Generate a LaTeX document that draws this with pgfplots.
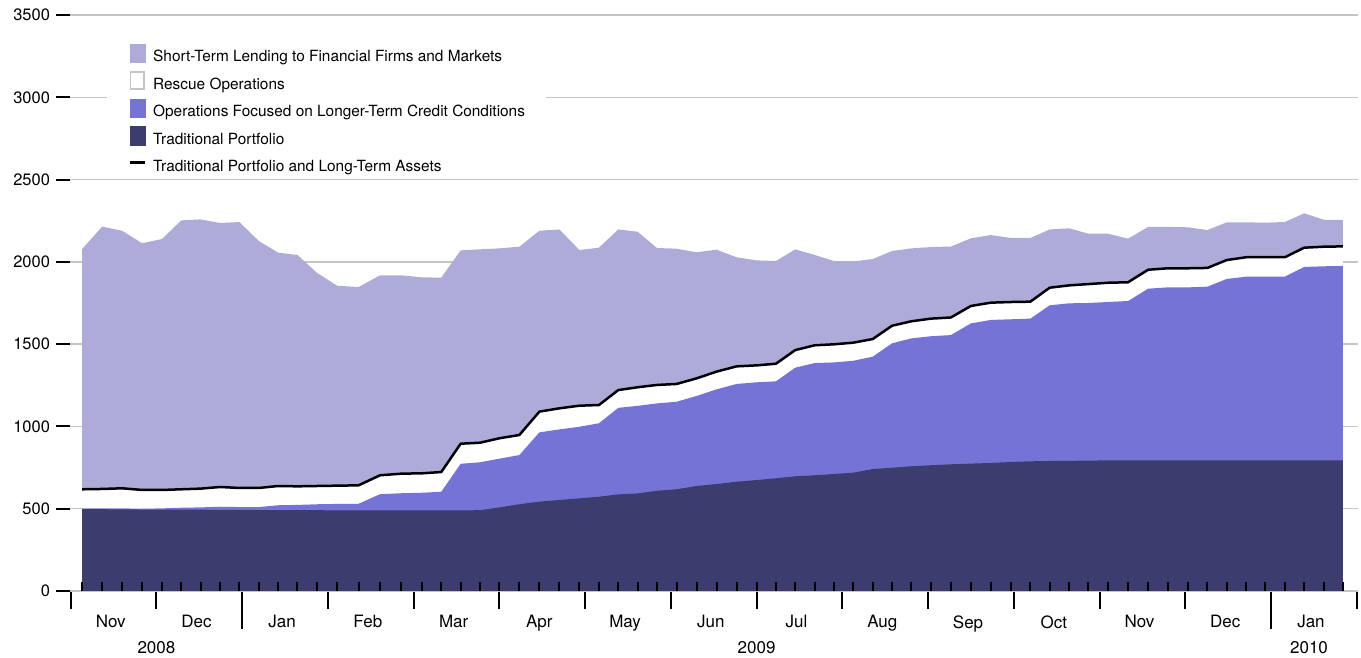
\documentclass[border=0pt]{standalone}
\usepackage{fontspec}
\setmainfont{TeX Gyre Heros}
\usepackage{pgfplots}
\usepackage{pgfplotstable}
\pgfplotsset{compat=1.18}

\definecolor{shortterm}{HTML}{ADACD9}
\definecolor{longterm}{HTML}{7574D6}
\definecolor{tradport}{HTML}{3D3C6E}
\definecolor{gridgray}{HTML}{C4C4C4}

% weekly balance sheet, cumulative tops (billions of dollars)
% x = month index from Nov 2008 (fraction of month)
\pgfplotstableread{
x T L R S
0.1333 498 502 618 2078
0.3667 497 502 620 2214
0.6000 496 502 624 2189
0.8333 495 500 614 2113
1.0645 495 502 614 2139
1.2903 494 506 618 2252
1.5161 494 508 622 2258
1.7419 493 512 632 2236
1.9677 493 510 626 2242
2.1935 492 510 626 2127
2.4194 492 521 638 2056
2.6452 491 523 636 2042
2.8710 491 527 638 1934
3.1071 490 529 640 1855
3.3571 490 530 642 1847
3.6071 490 588 703 1918
3.8571 490 594 713 1918
4.0968 490 597 715 1906
4.3226 490 603 723 1904
4.5484 490 773 895 2070
4.7742 491 782 901 2076
5.0000 508 804 928 2082
5.2333 527 826 948 2092
5.4667 543 964 1090 2189
5.7000 553 982 1110 2197
5.9333 563 998 1126 2072
6.1613 573 1019 1130 2086
6.3871 587 1113 1221 2197
6.6129 593 1125 1238 2183
6.8387 609 1140 1252 2084
7.0667 618 1150 1258 2080
7.3000 638 1185 1292 2058
7.5333 650 1225 1333 2074
7.7667 664 1258 1365 2028
8.0000 674 1268 1371 2009
8.2258 685 1274 1381 2005
8.4516 697 1357 1464 2076
8.6774 703 1385 1493 2042
8.9032 711 1389 1499 2005
9.1290 719 1399 1509 2003
9.3548 741 1424 1531 2017
9.5806 749 1505 1612 2066
9.8065 758 1535 1639 2082
10.0333 764 1548 1655 2090
10.2667 770 1555 1662 2093
10.5000 774 1626 1732 2143
10.7333 778 1647 1752 2163
10.9667 784 1651 1756 2145
11.1935 788 1655 1758 2145
11.4194 790 1736 1843 2197
11.6452 791 1748 1857 2204
11.8710 792 1750 1865 2171
12.1000 794 1756 1873 2171
12.3333 794 1762 1876 2141
12.5667 794 1837 1952 2212
12.8000 794 1845 1961 2212
13.0323 794 1845 1961 2210
13.2581 794 1849 1963 2193
13.4839 794 1896 2011 2240
13.7097 794 1910 2028 2240
13.9355 794 1910 2028 2238
14.1613 794 1910 2028 2242
14.3871 794 1969 2086 2295
14.6129 794 1973 2092 2256
14.8387 794 1975 2094 2254
}\balance

\pgfplotsset{
  chartframe/.style={
    at={(70pt,67pt)}, anchor=south west,
    scale only axis, width=1287.7pt, height=576pt,
    xmin=-0.0082, xmax=15.0117, ymin=0, ymax=3500,
    axis line style={draw=none},
    tick pos=left,
  },
}

\begin{document}
\begin{tikzpicture}
\useasboundingbox (0,0) rectangle (1361pt,658pt);
\begin{axis}[
  chartframe,
  clip=false,
  ytick=\empty,
  extra y ticks={0,500,...,3500},
  extra y tick style={major tick length=14pt, ymajorgrids},
  major grid style={gridgray, line width=1.5pt},
  xtick={0,...,15},
  xticklabels={Nov,Dec,Jan,Feb,Mar,Apr,May,Jun,Jul,Aug,Sep,Oct,Nov,Dec,Jan,{}},
  extra x ticks={2,14},
  extra x tick labels={},
  extra x tick style={major tick length=38pt},
  tick align=outside,
  major tick length=18pt,
  tick style={black, line width=2pt},
  /pgf/number format/assume math mode=true,
  /pgf/number format/1000 sep={},
  yticklabel style={font=\fontsize{16.5}{18}\selectfont, anchor=east, xshift=-2.5pt},
  xticklabel style={font=\fontsize{17}{19}\selectfont, anchor=north, xshift=40pt, yshift=-3pt},
  legend style={at={(axis description cs:0,1)}, anchor=north west,
    xshift=37pt, yshift=-27.7pt, draw=none, fill=white,
    font=\fontsize{15.4}{17}\selectfont, inner xsep=21pt, inner ysep=1pt,
    row sep=5.1pt, nodes={inner sep=0pt, text depth=4.3pt},
    /tikz/every odd column/.append style={column sep=7pt},
    /tikz/every even column/.append style={column sep=5pt}},
  legend cell align=left,
]
\addlegendimage{legend image code/.code={\fill[shortterm] (0pt,-4.3pt) rectangle (15pt,14.3pt);}}
\addlegendentry{Short-Term Lending to Financial Firms and Markets}
\addlegendimage{legend image code/.code={\draw[fill=white, draw=gridgray, line width=1.5pt] (0.75pt,-3.55pt) rectangle (14.25pt,13.55pt);}}
\addlegendentry{Rescue Operations}
\addlegendimage{legend image code/.code={\fill[longterm] (0pt,-4.3pt) rectangle (15pt,14.3pt);}}
\addlegendentry{Operations Focused on Longer-Term Credit Conditions}
\addlegendimage{legend image code/.code={\fill[tradport] (0pt,-4.3pt) rectangle (15pt,14.3pt);}}
\addlegendentry{Traditional Portfolio}
\addlegendimage{legend image code/.code={\path[draw=none, fill=none] (0pt,-4.3pt) rectangle (15pt,14.3pt); \draw[black, line width=3pt] (0pt,5pt) -- (15pt,5pt);}}
\addlegendentry{Traditional Portfolio and Long-Term Assets}

\addplot[fill=shortterm, draw=none, forget plot] table[x=x, y=S] {\balance} \closedcycle;
\addplot[fill=white, draw=none, forget plot] table[x=x, y=R] {\balance} \closedcycle;
\addplot[fill=longterm, draw=none, forget plot] table[x=x, y=L] {\balance} \closedcycle;
\addplot[fill=tradport, draw=none, forget plot] table[x=x, y=T] {\balance} \closedcycle;
\addplot[black, line width=2.5pt, line join=round, forget plot] table[x=x, y=R] {\balance};

\node[font=\fontsize{17}{19}\selectfont, anchor=base] at (axis cs:1,0) [yshift=-63pt] {2008};
\node[font=\fontsize{17}{19}\selectfont, anchor=base] at (axis cs:8,0) [yshift=-63pt] {2009};
\node[font=\fontsize{17}{19}\selectfont, anchor=base] at (axis cs:14.444,0) [yshift=-63pt] {2010};
\end{axis}

% weekly ticks drawn over the areas
\begin{axis}[
  chartframe,
  ytick=\empty,
  xtick={0.1333,0.3667,0.6,0.8333,1.0645,1.2903,1.5161,1.7419,1.9677,2.1935,2.4194,2.6452,2.871,3.1071,3.3571,3.6071,3.8571,4.0968,4.3226,4.5484,4.7742,5.0,5.2333,5.4667,5.7,5.9333,6.1613,6.3871,6.6129,6.8387,7.0667,7.3,7.5333,7.7667,8.0,8.2258,8.4516,8.6774,8.9032,9.129,9.3548,9.5806,9.8065,10.0333,10.2667,10.5,10.7333,10.9667,11.1935,11.4194,11.6452,11.871,12.1,12.3333,12.5667,12.8,13.0323,13.2581,13.4839,13.7097,13.9355,14.1613,14.3871,14.6129,14.8387},
  xticklabels={},
  tick align=inside,
  major tick length=9pt,
  tick style={black, line width=2pt},
]
\end{axis}
\end{tikzpicture}
\end{document}
